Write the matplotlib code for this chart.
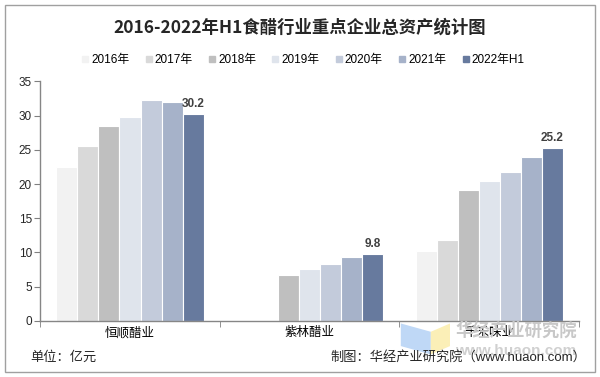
import numpy as np
import matplotlib.pyplot as plt
from matplotlib.lines import Line2D
from matplotlib.patches import Rectangle, Polygon

plt.rcParams['font.family'] = ['Liberation Sans', 'Noto Sans CJK SC', 'DejaVu Sans']

# data (unit: 亿元)
companies = ['恒顺醋业', '紫林醋业', '千禾味业']
years = ['2016年', '2017年', '2018年', '2019年', '2020年', '2021年', '2022年H1']
hengshun = [22.5, 25.6, 28.5, 29.8, 32.3, 32.0, 30.2]
zilin = [np.nan, np.nan, 6.7, 7.6, 8.3, 9.3, 9.8]
qianhe = [10.2, 11.8, 19.2, 20.5, 21.8, 24.0, 25.2]
colors = ['#f2f2f2', '#d9d9d9', '#bfbfbf', '#dfe4ec', '#c3cbdb', '#a6b2c9', '#677a9e']

values = np.array([hengshun, zilin, qianhe])

fig = plt.figure(figsize=(6, 3.77), dpi=100)
ax = fig.add_axes([0.067, 0.149, 0.898, 0.635])

x = np.arange(len(companies))
width = 0.117
offset0 = -3 * width
for i, yr in enumerate(years):
    ax.bar(x + offset0 + i * width, values[:, i], width,
           color=colors[i], edgecolor='white', linewidth=0.8, label=yr)

# labels only on the latest period
for j, v in enumerate(values[:, -1]):
    ax.text(x[j] + offset0 + 6 * width, v + 0.6, f'{v:.1f}',
            ha='center', va='bottom', fontsize=8.5, fontweight='bold',
            color='#404040')

ax.set_xlim(-0.5, 2.5)
ax.set_ylim(0, 35)
ax.set_yticks(range(0, 36, 5))
ax.set_xticks(x)
ax.set_xticklabels(companies, fontsize=9, family=['Noto Sans CJK SC'])
ax.set_xticks([-0.5, 0.5, 1.5, 2.5], minor=True)
ax.tick_params(axis='x', which='major', length=0, pad=4)
ax.tick_params(axis='x', which='minor', length=4, color='#808080')
ax.tick_params(axis='y', length=4, color='#808080', labelsize=8.5,
               labelcolor='#262626', pad=2)
for s in ['top', 'right']:
    ax.spines[s].set_visible(False)
for s in ['left', 'bottom']:
    ax.spines[s].set_color('#868686')
    ax.spines[s].set_linewidth(1)

fig.text(0.5, 0.928, '2016-2022年H1食醋行业重点企业总资产统计图',
         ha='center', va='center', fontsize=12.5, fontweight='bold',
         family=['Noto Sans CJK SC'], color='#262626')

handles = [Line2D([], [], marker='s', linestyle='none', markersize=4,
                  markerfacecolor=c, markeredgecolor=c) for c in colors]
fig.legend(handles, years, loc='center', bbox_to_anchor=(0.505, 0.84),
           ncol=7, frameon=False, fontsize=8.5, handlelength=0.6,
           handletextpad=0.2, columnspacing=1.35, borderaxespad=0)

# watermark
fig.patches.append(Polygon([[0.668, 0.142], [0.718, 0.12], [0.718, 0.06], [0.668, 0.082]],
                           closed=True, transform=fig.transFigure,
                           facecolor='#b8d4f5', edgecolor='none', alpha=0.9))
fig.patches.append(Polygon([[0.718, 0.12], [0.75, 0.142], [0.75, 0.082], [0.718, 0.06]],
                           closed=True, transform=fig.transFigure,
                           facecolor='#fbeeb0', edgecolor='none', alpha=0.9))
fig.text(0.86, 0.122, '华经产业研究院', ha='center', va='center', fontsize=12.5,
         fontweight='bold', color='#c8c8c8', family=['Noto Sans CJK SC'], zorder=0)
fig.text(0.86, 0.068, 'www.huaon.com', ha='center', va='center', fontsize=11,
         fontweight='bold', color='#d0d0d0', zorder=0)

fig.text(0.05, 0.053, '单位：亿元', ha='left', va='center', fontsize=9.5,
         family=['Noto Sans CJK SC'], color='#262626')
fig.text(0.977, 0.053, '制图：华经产业研究院（www.huaon.com）', ha='right', va='center',
         fontsize=9.5, color='#262626')

# outer border
fig.patches.append(Rectangle((0.009, 0.013), 0.982, 0.974, transform=fig.transFigure,
                             fill=False, edgecolor='#a0a0a0', linewidth=1))

fig.savefig('out.png', dpi=100)
